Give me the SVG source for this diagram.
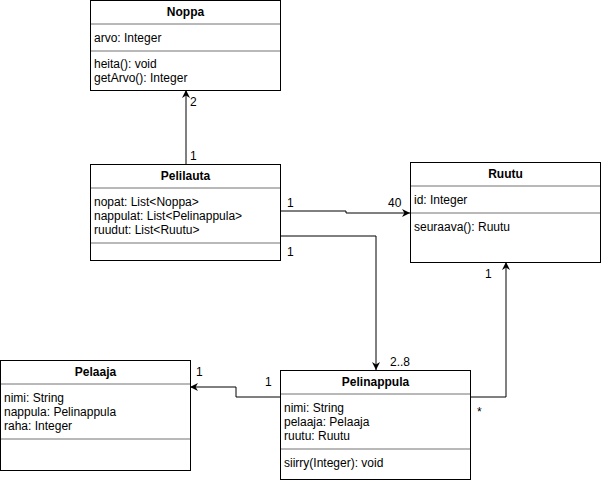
<svg xmlns="http://www.w3.org/2000/svg" width="602" height="482" viewBox="0 0 602 482">
<defs>
<marker id="arr" viewBox="0 0 10 10" refX="10" refY="5" markerWidth="8" markerHeight="8" markerUnits="userSpaceOnUse" orient="auto">
<path d="M0,0 L10,5 L0,10 L3,5 Z" fill="#000"/>
</marker>
</defs>
<style>
text{font-family:"Liberation Sans",Arial,sans-serif;font-size:12px;fill:#000}
.t{font-weight:bold;text-anchor:middle}
.box{fill:#fff;stroke:#000;stroke-width:1}
.sep{stroke:#000;stroke-width:1;opacity:0.55}
.c{fill:none;stroke:#000;stroke-width:1}
</style>
<rect width="602" height="482" fill="#fff"/>
<g id="connectors">
<path class="c" d="M186 164 L186 90" marker-end="url(#arr)"/>
<path class="c" d="M281 211 L346 211 L346 213 L410 213" marker-end="url(#arr)"/>
<path class="c" d="M281 236 L376 236 L376 370" marker-end="url(#arr)"/>
<path class="c" d="M470 397 L506 397 L506 262" marker-end="url(#arr)"/>
<path class="c" d="M280 397 L236 397 L236 387 L190 387" marker-end="url(#arr)"/>
<text x="190" y="106">2</text>
<text x="190" y="160">1</text>
<text x="287" y="207">1</text>
<text x="388" y="207">40</text>
<text x="287" y="256">1</text>
<text x="390" y="366">2..8</text>
<text x="477" y="416">*</text>
<text x="485" y="278">1</text>
<text x="196" y="376">1</text>
<text x="265" y="386">1</text>
</g>
<g id="Noppa">
<rect class="box" x="90.5" y="0.5" width="190" height="90"/>
<line class="sep" x1="90" y1="24" x2="281" y2="24"/>
<line class="sep" x1="90" y1="51" x2="281" y2="51"/>
<text class="t" x="185.5" y="16">Noppa</text>
<text x="94" y="42">arvo: Integer</text>
<text x="94" y="68">heita(): void</text>
<text x="94" y="82">getArvo(): Integer</text>
</g>
<g id="Pelilauta">
<rect class="box" x="90.5" y="164.5" width="190" height="96"/>
<line class="sep" x1="90" y1="188" x2="281" y2="188"/>
<line class="sep" x1="90" y1="243" x2="281" y2="243"/>
<text class="t" x="185.5" y="180">Pelilauta</text>
<text x="94" y="206">nopat: List&lt;Noppa&gt;</text>
<text x="94" y="220">nappulat: List&lt;Pelinappula&gt;</text>
<text x="94" y="234">ruudut: List&lt;Ruutu&gt;</text>
</g>
<g id="Ruutu">
<rect class="box" x="410.5" y="162.5" width="190" height="100"/>
<line class="sep" x1="410" y1="186" x2="601" y2="186"/>
<line class="sep" x1="410" y1="213" x2="601" y2="213"/>
<text class="t" x="505.5" y="178">Ruutu</text>
<text x="414" y="204">id: Integer</text>
<text x="414" y="231">seuraava(): Ruutu</text>
</g>
<g id="Pelaaja">
<rect class="box" x="0.5" y="360.5" width="190" height="110"/>
<line class="sep" x1="0" y1="384" x2="191" y2="384"/>
<line class="sep" x1="0" y1="439" x2="191" y2="439"/>
<text class="t" x="95.5" y="376">Pelaaja</text>
<text x="4" y="402">nimi: String</text>
<text x="4" y="416">nappula: Pelinappula</text>
<text x="4" y="430">raha: Integer</text>
</g>
<g id="Pelinappula">
<rect class="box" x="280.5" y="370.5" width="190" height="109"/>
<line class="sep" x1="280" y1="394" x2="471" y2="394"/>
<line class="sep" x1="280" y1="449" x2="471" y2="449"/>
<text class="t" x="375.5" y="386">Pelinappula</text>
<text x="284" y="412">nimi: String</text>
<text x="284" y="426">pelaaja: Pelaaja</text>
<text x="284" y="440">ruutu: Ruutu</text>
<text x="284" y="467">siirry(Integer): void</text>
</g>
</svg>
